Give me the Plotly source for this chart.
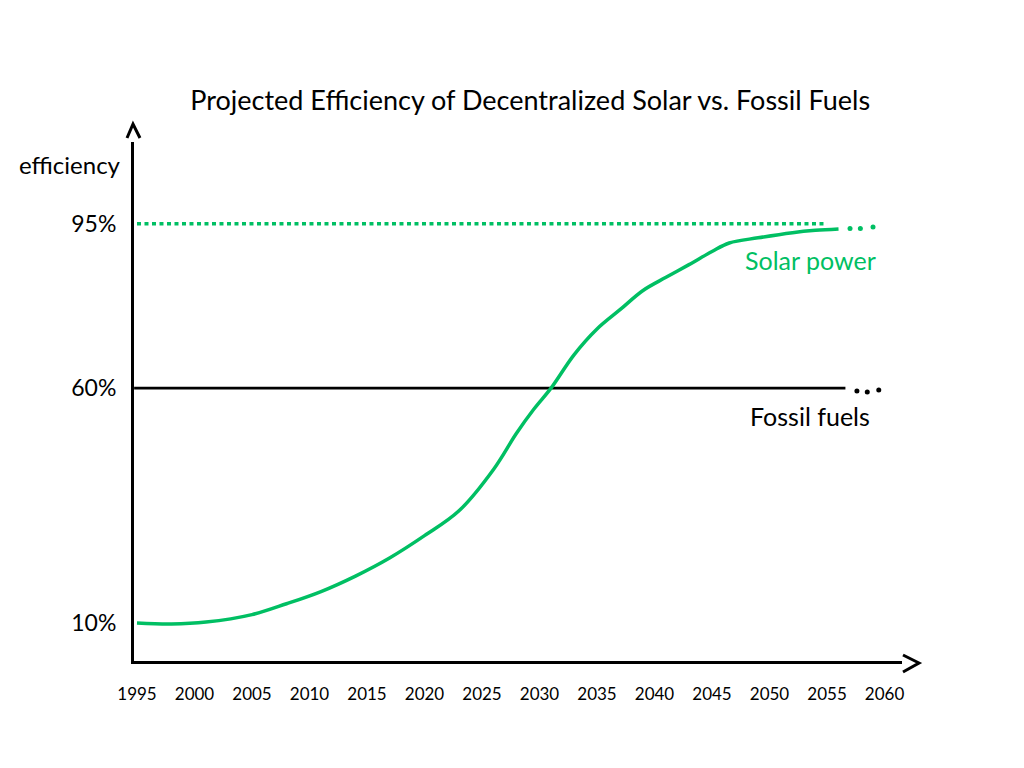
import plotly.graph_objects as go

# solar efficiency curve (year, %)
solar_years = [1995, 1998, 2001, 2005, 2008, 2011, 2014, 2017, 2020, 2023,
               2026, 2028, 2029.5, 2031, 2033, 2035, 2037, 2039, 2041, 2043,
               2045, 2046.5, 2049, 2052, 2054, 2056]
solar_eff = [10.0, 9.8, 10.2, 11.8, 14.1, 16.7, 20.0, 23.9, 28.6, 33.9,
             42.7, 50.4, 55.5, 60.0, 67.1, 72.6, 76.7, 80.8, 83.6, 86.3,
             89.1, 90.9, 92.0, 93.1, 93.6, 93.9]

fossil_years = [1994.75, 2056.6]
fossil_eff = [60, 60]
fossil_dot_years = [2057.6, 2058.5, 2059.5]
fossil_dot_eff = [59.4, 59.2, 59.6]

target_years = [1995, 2055]
target_eff = [95, 95]
solar_dot_years = [2057.0, 2057.9, 2059.0]
solar_dot_eff = [94.0, 94.0, 94.3]

x_ticks = list(range(1995, 2061, 5))
y_ticks = [10, 60, 95]
y_labels = ["10%", "60%", "95%"]

GREEN = "#00bf63"
FONT = "Lato"

fig = go.Figure()

fig.add_trace(go.Scatter(x=target_years, y=target_eff, mode="lines",
                         line=dict(color=GREEN, width=3.5, dash="4px,3.5px"),
                         hoverinfo="skip"))
fig.add_trace(go.Scatter(x=fossil_years, y=fossil_eff, mode="lines",
                         line=dict(color="black", width=2.8), name="Fossil fuels"))
fig.add_trace(go.Scatter(x=fossil_dot_years, y=fossil_dot_eff, mode="markers",
                         marker=dict(color="black", size=5), hoverinfo="skip"))
fig.add_trace(go.Scatter(x=solar_years, y=solar_eff, mode="lines",
                         line=dict(color=GREEN, width=3.5, shape="spline"),
                         name="Solar power"))
fig.add_trace(go.Scatter(x=solar_dot_years, y=solar_dot_eff, mode="markers",
                         marker=dict(color=GREEN, size=5), hoverinfo="skip"))

# arrow heads on the axes (open chevrons)
fig.add_shape(type="path", xref="paper", yref="paper",
              path="M -0.0091,1.0077 L -0.0013,1.0347 L 0.0078,1.0077",
              line=dict(color="black", width=3))
fig.add_shape(type="path", xref="paper", yref="paper",
              path="M 1.0013,0.0116 L 1.0221,-0.0039 L 1.0013,-0.0212",
              line=dict(color="black", width=3))

fig.add_annotation(text="Solar power", x=2059.4, y=87.3, xanchor="right",
                   yanchor="middle", showarrow=False,
                   font=dict(family=FONT, size=25, color=GREEN))
fig.add_annotation(text="Fossil fuels", x=2058.9, y=54.1, xanchor="right",
                   yanchor="middle", showarrow=False,
                   font=dict(family=FONT, size=25, color="black"))
fig.add_annotation(text="efficiency", xref="paper", yref="paper",
                   x=-0.0143, y=0.956, xanchor="right", yanchor="middle",
                   showarrow=False, font=dict(family=FONT, size=24, color="black"))

fig.update_layout(
    width=1024, height=768,
    margin=dict(l=126, r=130, t=134, b=115),
    paper_bgcolor="white", plot_bgcolor="white",
    showlegend=False,
    title=dict(text="Projected Efficiency of Decentralized Solar vs. Fossil Fuels",
               x=0.510, xanchor="center", y=0.880, yanchor="middle",
               font=dict(family=FONT, size=27, color="black")),
    font=dict(family=FONT, color="black"),
)
fig.update_xaxes(range=[1994.74, 2061.52], tickvals=x_ticks, showgrid=False,
                 zeroline=False, showline=True, linecolor="black", linewidth=3,
                 ticks="", ticklabelstandoff=16, tickfont=dict(size=17))
fig.update_yaxes(range=[1.92, 112.4], tickvals=y_ticks, ticktext=y_labels,
                 showgrid=False, zeroline=False, showline=True, linecolor="black",
                 linewidth=3, ticks="", ticklabelstandoff=10,
                 tickfont=dict(size=23))

fig.write_html("out.html")
